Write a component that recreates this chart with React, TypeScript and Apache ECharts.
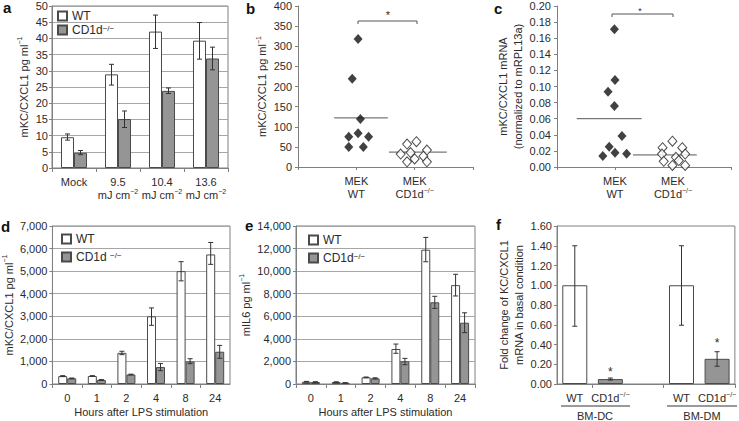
import React, { useEffect, useRef } from 'react';
import * as echarts from 'echarts';

const FONT = '"Liberation Sans", Arial, Helvetica, sans-serif';
const TXT = '#2b2b2b';
const AXIS = '#808080';
const GRIDLINE = '#a6a6a6';
const GRAY = '#959595';
const EDGE = '#4a4a4a';
const ERR = '#333333';

// ---------------- data ----------------
const SUP_KO = '{sup|−/−}';

// panel a
const aCategories = ['Mock', '9.5', '10.4', '13.6'];
const aUnitLine = 'mJ cm{sup|−2}';
const aWT = [9.5, 28.9, 42.1, 39.3];
const aWTLow = [8.6, 25.6, 36.9, 33.6];
const aWTHigh = [10.5, 32.0, 47.2, 44.9];
const aKO = [4.7, 15.1, 23.8, 33.8];
const aKOLow = [4.1, 12.5, 23.0, 30.3];
const aKOHigh = [5.4, 17.6, 24.7, 37.3];
const aScale = [0, 50, 5];

// panel b  ([jittered group position, value])
const bcGroupLabels = ['MEK\nWT', 'MEK\nCD1d' + SUP_KO];
const bWT = [[1.03, 318], [0.93, 219], [1.07, 119], [1.03, 84], [0.87, 75], [1.21, 75], [0.87, 50], [1.12, 50]];
const bKO = [[2.03, 63], [1.87, 57], [1.76, 32], [1.93, 36], [2.21, 42], [2.15, 27], [2.0, 20], [1.87, 13], [2.21, 13]];
const bMeans = [122, 37];
const bMeanSpans = [[0.62, 1.54], [1.56, 2.55]];
const bScale = [0, 400, 50];

// panel c
const cWT = [[0.99, 0.171], [1.0, 0.108], [0.88, 0.0935], [0.99, 0.0758], [1.12, 0.0385], [0.9, 0.0252], [1.0, 0.0178], [0.79, 0.0137], [1.2, 0.0165]];
const cKO = [[1.99, 0.032], [1.82, 0.024], [2.16, 0.024], [1.81, 0.016], [2.21, 0.016], [2.05, 0.012], [1.84, 0.007], [2.1, 0.008], [1.99, 0.002], [2.21, 0.002]];
const cMeans = [0.06, 0.015];
const cMeanSpans = [[0.34, 1.46], [1.31, 2.41]];
const cScale = [0, 0.2, 0.02];

// panel d
const hours = ['0', '1', '2', '4', '8', '24'];
const dWT = [350, 355, 1380, 3000, 5000, 5740];
const dWTLow = [330, 340, 1300, 2600, 4570, 5300];
const dWTHigh = [370, 370, 1450, 3370, 5420, 6270];
const dKO = [250, 180, 420, 750, 1000, 1430];
const dKOLow = [235, 165, 405, 590, 900, 1140];
const dKOHigh = [265, 195, 435, 910, 1120, 1710];
const dScale = [0, 7000, 1000];

// panel e
const eWT = [200, 170, 590, 3100, 11900, 8760];
const eWTLow = [170, 150, 560, 2720, 10830, 7800];
const eWTHigh = [230, 190, 620, 3540, 12990, 9720];
const eKO = [175, 100, 500, 2010, 7240, 5430];
const eKOLow = [150, 85, 450, 1710, 6700, 4550];
const eKOHigh = [200, 115, 550, 2270, 7770, 6310];
const eScale = [0, 14000, 2000];

// panel f
const fCategories = ['WT', 'CD1d', '', 'WT', 'CD1d'];
const fValues = [1.0, 0.05, null, 1.0, 0.255];
const fLow = [0.585, 0.04, null, 0.595, 0.18];
const fHigh = [1.4, 0.06, null, 1.4, 0.327];
const fStars = [null, 0.15, null, null, 0.447];
const fGroups = ['BM-DC', 'BM-DM'];
const fScale = [0, 1.6, 0.2];

// ---------------- helpers ----------------
const txt = { fontFamily: FONT, color: TXT, fontSize: 11 };
const rich = { sup: { fontFamily: FONT, color: TXT, fontSize: 7, verticalAlign: 'top', lineHeight: 8 } };

function errRender(offset: number, cap: number) {
  return (params: any, api: any) => {
    const idx = api.value(0);
    const lo = api.coord([idx, api.value(1)]);
    const hi = api.coord([idx, api.value(2)]);
    const x = lo[0] + offset;
    const style = { stroke: ERR, lineWidth: 1 };
    return {
      type: 'group',
      children: [
        { type: 'line', shape: { x1: x, y1: lo[1], x2: x, y2: hi[1] }, style },
        { type: 'line', shape: { x1: x - cap, y1: lo[1], x2: x + cap, y2: lo[1] }, style },
        { type: 'line', shape: { x1: x - cap, y1: hi[1], x2: x + cap, y2: hi[1] }, style },
      ],
    };
  };
}

function errSeries(axis: number, lows: (number | null)[], highs: (number | null)[], offset: number, cap: number) {
  const data: number[][] = [];
  lows.forEach((l, i) => {
    if (l != null && highs[i] != null) data.push([i, l as number, highs[i] as number]);
  });
  return {
    type: 'custom',
    xAxisIndex: axis,
    yAxisIndex: axis,
    renderItem: errRender(offset, cap),
    data,
    encode: { x: 0, y: [1, 2] },
    z: 5,
    silent: true,
  };
}

function barPair(axis: number, wt: number[], ko: number[], width: number) {
  return [
    {
      type: 'bar', name: 'WT', xAxisIndex: axis, yAxisIndex: axis, data: wt, barWidth: width, barGap: '0%',
      itemStyle: { color: '#ffffff', borderColor: EDGE, borderWidth: 1 },
    },
    {
      type: 'bar', name: 'CD1d', xAxisIndex: axis, yAxisIndex: axis, data: ko, barWidth: width, barGap: '0%',
      itemStyle: { color: GRAY, borderColor: EDGE, borderWidth: 1 },
    },
  ];
}

function yAx(grid: number, scale: number[], fmt: (v: number) => string, name: string, nameGap: number, split: boolean, margin: number) {
  return {
    type: 'value', gridIndex: grid, min: scale[0], max: scale[1], interval: scale[2],
    name, nameLocation: 'middle', nameGap, nameRotate: 90,
    nameTextStyle: { ...txt, lineHeight: 15, rich },
    axisLine: { show: true, onZero: false, lineStyle: { color: AXIS } },
    axisTick: { show: true, length: 3, lineStyle: { color: AXIS } },
    axisLabel: { ...txt, margin, formatter: fmt },
    splitLine: { show: split, lineStyle: { color: GRIDLINE } },
  };
}

function catX(grid: number, data: string[], fmt: (v: string) => string, extra: any = {}) {
  return {
    type: 'category', gridIndex: grid, data,
    axisLine: { show: true, onZero: false, lineStyle: { color: AXIS } },
    axisTick: { show: true, length: 4, lineStyle: { color: AXIS } },
    axisLabel: { ...txt, margin: 7, lineHeight: 13, rich, formatter: fmt, interval: 0 },
    splitLine: { show: false },
    ...extra,
  };
}

function groupX(grid: number) {
  return {
    type: 'value', gridIndex: grid, min: 0, max: 3, interval: 1,
    axisLine: { show: true, onZero: false, lineStyle: { color: AXIS } },
    axisTick: { show: true, length: 3, lineStyle: { color: AXIS } },
    axisLabel: {
      ...txt, margin: 7, lineHeight: 13, rich,
      formatter: (v: number) => (v === 1 ? bcGroupLabels[0] : v === 2 ? bcGroupLabels[1] : ''),
    },
    splitLine: { show: false },
  };
}

function meanLines(axis: number, means: number[], spans: number[][]) {
  return means.map((m, i) => ({
    type: 'line', xAxisIndex: axis, yAxisIndex: axis,
    data: [[spans[i][0], m], [spans[i][1], m]],
    symbol: 'none', lineStyle: { color: '#555', width: 1 }, z: 1, silent: true,
  }));
}

function scatterPair(axis: number, wt: number[][], ko: number[][]) {
  return [
    { type: 'scatter', xAxisIndex: axis, yAxisIndex: axis, data: wt, symbol: 'diamond', symbolSize: [9, 10], itemStyle: { color: '#111' }, z: 3 },
    { type: 'scatter', xAxisIndex: axis, yAxisIndex: axis, data: ko, symbol: 'diamond', symbolSize: [9, 10], itemStyle: { color: '#fff', borderColor: '#222', borderWidth: 1 }, z: 3 },
  ];
}

const thousands = (v: number) => v.toLocaleString('en-US');
const fixed2 = (v: number) => v.toFixed(2);
const plain = (v: number) => String(v);

function legendAt(left: number, top: number, gap: number, spaced: boolean) {
  return {
    data: ['WT', 'CD1d'], orient: 'vertical', left, top, itemWidth: 9, itemHeight: 9, itemGap: gap,
    icon: 'rect', padding: 0, selectedMode: false,
    textStyle: { ...txt, fontSize: 12, rich: { sup: { ...rich.sup, fontSize: 8 } } },
    formatter: (n: string) => (n === 'CD1d' ? (spaced ? 'CD1d ' : 'CD1d') + SUP_KO : n),
  };
}

function letter(t: string, x: number, y: number) {
  return { type: 'text', x, y, style: { text: t, font: 'bold 15px ' + FONT, fill: '#111', textVerticalAlign: 'top' } };
}

function buildOption() {
  return {
    animation: false,
    textStyle: { fontFamily: FONT },
    grid: [
      { left: 52, top: 6, width: 176, height: 162, show: true, borderColor: AXIS, borderWidth: 1 },
      { left: 298, top: 6, width: 175, height: 161 },
      { left: 557, top: 6, width: 174, height: 161 },
      { left: 52, top: 226, width: 178, height: 158, show: true, borderColor: AXIS, borderWidth: 1 },
      { left: 296, top: 226, width: 179, height: 158, show: true, borderColor: AXIS, borderWidth: 1 },
      { left: 557, top: 226, width: 180, height: 158, show: true, borderColor: AXIS, borderWidth: 1 },
    ],
    legend: [legendAt(57, 10, 2, false), legendAt(61, 233, 6, true), legendAt(308, 234, 6, false)],
    xAxis: [
      catX(0, aCategories, (v: string) => (v === 'Mock' ? v : v + '\n' + aUnitLine)),
      groupX(1),
      groupX(2),
      { ...catX(3, hours, (v: string) => v), name: 'Hours after LPS stimulation', nameLocation: 'middle', nameGap: 22, nameTextStyle: { ...txt } },
      { ...catX(4, hours, (v: string) => v), name: 'Hours after LPS stimulation', nameLocation: 'middle', nameGap: 22, nameTextStyle: { ...txt } },
      catX(5, fCategories, (v: string) => (v === 'CD1d' ? 'CD1d' + SUP_KO : v), {
        axisTick: { show: true, length: 4, lineStyle: { color: AXIS }, interval: (i: number) => i === 1 || i === 3 },
      }),
    ],
    yAxis: [
      yAx(0, aScale, plain, 'mKC/CXCL1 pg ml{sup|−1}', 21, true, 4),
      yAx(1, bScale, plain, 'mKC/CXCL1 pg ml{sup|−1}', 22, false, 6),
      yAx(2, cScale, fixed2, 'mKC/CXCL1 mRNA\n(normalized to mRPL13a)', 32, false, 6),
      yAx(3, dScale, thousands, 'mKC/CXCL1 pg ml{sup|−1}', 25, true, 5),
      yAx(4, eScale, thousands, 'mIL6 pg ml{sup|−1}', 30, true, 5),
      yAx(5, fScale, fixed2, 'Fold change of KC/CXCL1\nmRNA in basal condition', 27, false, 5),
    ],
    series: [
      ...barPair(0, aWT, aKO, 13),
      errSeries(0, aWTLow, aWTHigh, -6.5, 2.5),
      errSeries(0, aKOLow, aKOHigh, 6.5, 2.5),
      ...meanLines(1, bMeans, bMeanSpans),
      ...scatterPair(1, bWT, bKO),
      ...meanLines(2, cMeans, cMeanSpans),
      ...scatterPair(2, cWT, cKO),
      ...barPair(3, dWT, dKO, 9),
      errSeries(3, dWTLow, dWTHigh, -4.5, 2.5),
      errSeries(3, dKOLow, dKOHigh, 4.5, 2.5),
      ...barPair(4, eWT, eKO, 9),
      errSeries(4, eWTLow, eWTHigh, -4.5, 2.5),
      errSeries(4, eKOLow, eKOHigh, 4.5, 2.5),
      {
        type: 'bar', name: 'f', xAxisIndex: 5, yAxisIndex: 5, barWidth: 25,
        data: fValues.map((v, i) => (v == null ? '-' : { value: v, itemStyle: { color: fCategories[i] === 'WT' ? '#ffffff' : GRAY } })),
        itemStyle: { borderColor: EDGE, borderWidth: 1 },
      },
      errSeries(5, fLow, fHigh, 0, 2.5),
      {
        type: 'custom', xAxisIndex: 5, yAxisIndex: 5, silent: true, z: 6,
        data: fStars.map((s, i) => (s == null ? null : [i, s])).filter((d) => d != null),
        encode: { x: 0, y: 1 },
        renderItem: (params: any, api: any) => {
          const p = api.coord([api.value(0), api.value(1)]);
          return { type: 'text', x: p[0], y: p[1] + 3, style: { text: '*', font: '12px ' + FONT, fill: TXT, textAlign: 'center', textVerticalAlign: 'middle' } };
        },
      },
    ],
    graphic: [
      letter('a', 3, 0), letter('b', 246, 1), letter('c', 494, 1),
      letter('d', 1, 219), letter('e', 245, 218), letter('f', 496, 217),
      { type: 'polyline', shape: { points: [[358, 24], [358, 21], [417, 21], [417, 24]] }, style: { stroke: '#555', fill: null, lineWidth: 1 } },
      { type: 'text', x: 388, y: 15, style: { text: '*', font: '11px ' + FONT, fill: TXT, textAlign: 'center', textVerticalAlign: 'middle' } },
      { type: 'polyline', shape: { points: [[612, 17], [612, 14], [673, 14], [673, 17]] }, style: { stroke: '#555', fill: null, lineWidth: 1 } },
      { type: 'text', x: 640, y: 11, style: { text: '*', font: '9px ' + FONT, fill: TXT, textAlign: 'center', textVerticalAlign: 'middle' } },
      { type: 'line', shape: { x1: 561, y1: 406, x2: 630, y2: 406 }, style: { stroke: '#9a9a9a', lineWidth: 2 } },
      { type: 'line', shape: { x1: 667, y1: 406, x2: 737, y2: 406 }, style: { stroke: '#9a9a9a', lineWidth: 2 } },
      { type: 'text', x: 595, y: 416, style: { text: fGroups[0], font: '11px ' + FONT, fill: TXT, textAlign: 'center', textVerticalAlign: 'middle' } },
      { type: 'text', x: 702, y: 416, style: { text: fGroups[1], font: '11px ' + FONT, fill: TXT, textAlign: 'center', textVerticalAlign: 'middle' } },
    ],
  };
}

export default function App() {
  const ref = useRef<HTMLDivElement>(null);
  useEffect(() => {
    document.body.style.margin = '0';
    if (!ref.current) return;
    const chart = echarts.init(ref.current, null, { renderer: 'svg' });
    chart.setOption(buildOption() as any);
    return () => chart.dispose();
  }, []);
  return <div ref={ref} style={{ width: 739, height: 421, background: '#fff' }} />;
}
